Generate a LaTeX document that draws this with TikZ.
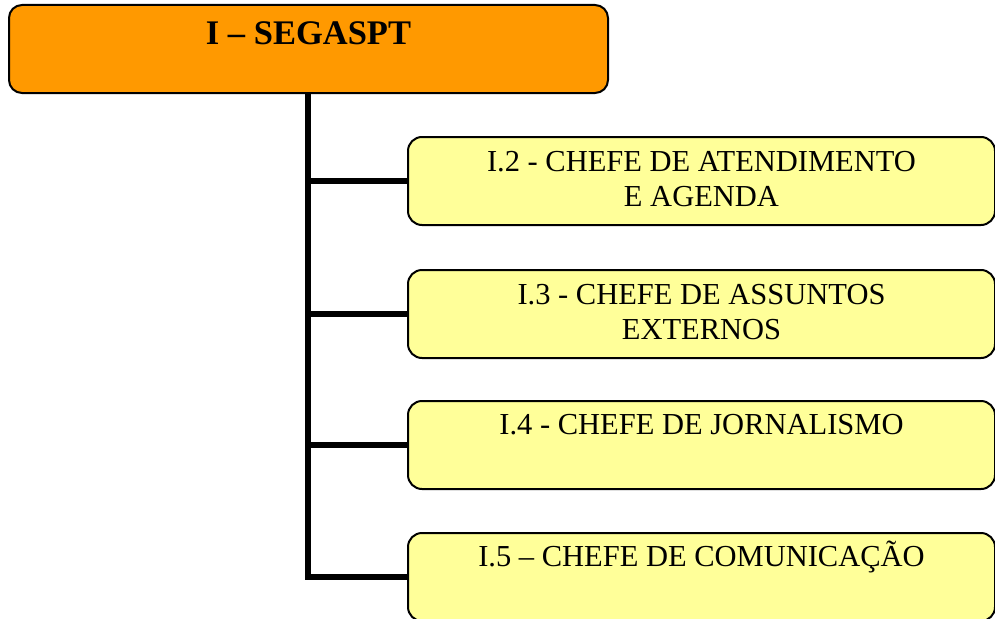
\documentclass[tikz,border=0pt]{standalone}
\usepackage{fontspec}
\setmainfont{Liberation Serif}
\definecolor{orgfill}{HTML}{FF9900}
\definecolor{yelfill}{HTML}{FFFF99}
\tikzset{
  topbox/.style={draw=black, line width=2pt, fill=orgfill, rounded corners=13pt,
    minimum width=599pt, minimum height=88pt, inner sep=0pt, anchor=north west},
  subbox/.style={draw=black, line width=2pt, fill=yelfill, rounded corners=14pt,
    minimum width=587pt, minimum height=88pt, inner sep=0pt, anchor=north west},
  conn/.style={draw=black, line width=6.5pt},
  titletxt/.style={font=\bfseries\fontsize{34.5}{40}\selectfont, inner sep=0pt, anchor=base},
  subtxt/.style={font=\fontsize{30.5}{35}\selectfont, inner sep=0pt, anchor=base, align=center},
}
\begin{document}
\begin{tikzpicture}[x=1pt,y=-1pt]
\useasboundingbox (0,0) rectangle (995,618);
\coordinate (sp) at (308,300);
\node[topbox] (top) at (8,4) {};
\node[subbox] (b1) at (407,136) {};
\node[subbox] (b2) at (407,269) {};
\node[subbox] (b3) at (407,400) {};
\node[subbox] (b4) at (407,532) {};
\draw[conn] (top.south -| sp) -- (sp |- b4.west) -- (b4.west);
\draw[conn] (sp |- b1.west) -- (b1.west);
\draw[conn] (sp |- b2.west) -- (b2.west);
\draw[conn] (sp |- b3.west) -- (b3.west);
\node[titletxt] (t0) at ([yshift=-40.5pt]top.north) {I – SEGASPT};
\node[subtxt] (t1) at ([yshift=-70pt]b1.north) {I.2 - CHEFE DE ATENDIMENTO\\E AGENDA};
\node[subtxt] (t2) at ([yshift=-70pt]b2.north) {I.3 - CHEFE DE ASSUNTOS\\EXTERNOS};
\node[subtxt] (t3) at ([yshift=-34pt]b3.north) {I.4 - CHEFE DE JORNALISMO};
\node[subtxt] (t4) at ([yshift=-34pt]b4.north) {I.5 – CHEFE DE COMUNICAÇÃO};
\end{tikzpicture}
\end{document}
